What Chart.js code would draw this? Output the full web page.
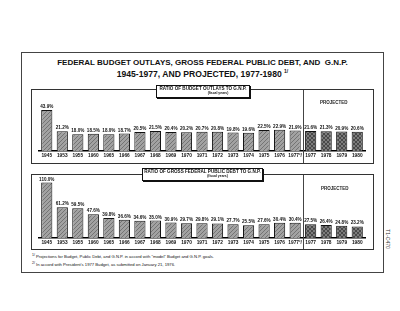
<!DOCTYPE html>
<html>
<head>
<meta charset="utf-8">
<script src="https://cdn.jsdelivr.net/npm/chart.js@4"></script>
<style>
  body { margin: 0; background: #fff; font-family: "Liberation Sans", Arial, sans-serif; }
  .pagina { position: relative; width: 400px; height: 311px; overflow: hidden; }
  .cornice { position: absolute; left: 21px; top: 52px; width: 361px; height: 219px; border: 1px solid #444; }
  .titolo { position: absolute; left: 21px; width: 363px; text-align: center; font-weight: bold; color: #111; }
  .pannello { position: absolute; left: 31px; width: 341px; border: 1px solid #333; }
  .etichetta { position: absolute; background: #fff; border: 1px solid #111; box-shadow: 1px 1px 0 #111; text-align: center; font-weight: bold; font-size: 4.6px; line-height: 5px; color: #111; }
  .etichetta small { display: block; font-size: 3.4px; line-height: 4px; padding-left: 30px; }
  .proiettato { position: absolute; font-weight: bold; font-size: 4.5px; color: #222; }
  .nota { position: absolute; left: 32px; font-size: 4.2px; color: #111; }
  canvas { position: absolute; }
  .laterale { position: absolute; left: 378px; top: 236px; transform: rotate(90deg); font-size: 5px; color: #333; }
</style>
</head>
<body>
<div class="pagina">
  <div class="cornice"></div>
  <div class="titolo" style="top:58px; font-size:8px;">FEDERAL BUDGET OUTLAYS, GROSS FEDERAL PUBLIC DEBT, AND&nbsp; G.N.P.</div>
  <div class="titolo" style="top:68px; font-size:8.6px;">1945-1977, AND PROJECTED, 1977-1980 <sup style="font-size:5px">1/</sup></div>

  <div class="pannello" style="top:89px; height:73px;"></div>
  <canvas id="graficoSpesa" width="341" height="73" style="left:32px; top:90px;"></canvas>
  <div class="etichetta" style="left:156px; top:85px; width:92px; height:11px;">RATIO OF BUDGET OUTLAYS TO G.N.P.<small>(fiscal years)</small></div>
  <div class="proiettato" style="left:320px; top:100px;">PROJECTED</div>

  <div class="pannello" style="top:174px; height:74px;"></div>
  <canvas id="graficoDebito" width="341" height="74" style="left:32px; top:175px;"></canvas>
  <div class="etichetta" style="left:142px; top:168px; width:119px; height:11px;">RATIO OF GROSS FEDERAL PUBLIC DEBT TO G.N.P.<small>(fiscal years)</small></div>
  <div class="proiettato" style="left:321px; top:186px;">PROJECTED</div>

  <div class="nota" style="top:253px;"><sup>1/</sup> Projections for Budget, Public Debt, and G.N.P. in accord with "model" Budget and G.N.P. goals.</div>
  <div class="nota" style="top:261px;"><sup>2/</sup> In accord with President's 1977 Budget, as submitted on January 21, 1976.</div>
  <div class="laterale">T1-C470</div>
</div>

<script>
// Dati
const anni = ['1945', '1953', '1955', '1960', '1965', '1966', '1967', '1968', '1969', '1970', '1971',
    '1972', '1973', '1974', '1975', '1976', '1977²/', '1977', '1978', '1979', '1980'];
const spesaSuPnl = [43.9, 21.2, 18.0, 18.5, 18.0, 18.7, 20.5, 21.5, 20.4, 20.2, 20.7,
    20.8, 19.8, 19.6, 22.5, 22.9, 21.9, 21.6, 21.3, 20.9, 20.6];
const debitoSuPnl = [110.0, 61.2, 59.5, 47.6, 39.8, 36.6, 34.6, 35.0, 30.9, 29.7, 29.8,
    29.1, 27.7, 25.5, 27.6, 30.4, 30.4, 27.5, 26.4, 24.8, 23.2];
const primoProiettato = 17;


function creaTrama(sfondo, linea, incrociata) {
    const c = document.createElement('canvas');
    c.width = 4;
    c.height = 4;
    const g = c.getContext('2d');
    g.fillStyle = sfondo;
    g.fillRect(0, 0, 4, 4);
    g.strokeStyle = linea;
    g.lineWidth = 0.8;
    g.beginPath();
    g.moveTo(0, 4); g.lineTo(4, 0);
    if (incrociata) {
        g.moveTo(0, 0); g.lineTo(4, 4);
    }
    g.stroke();
    return g.createPattern(c, 'repeat');
}

const tramaStorica = creaTrama('#a2a2a2', '#686868', false);
const tramaProiettata = creaTrama('#7c7c7c', '#3c3c3c', true);

// etichette sopra le barre e linea divisoria
const etichetteBarre = {
    id: 'etichetteBarre',
    afterDatasetsDraw(chart) {
        const ctx = chart.ctx;
        const meta = chart.getDatasetMeta(0);
        const valori = chart.data.datasets[0].data;
        ctx.save();
        ctx.fillStyle = '#111';
        ctx.font = 'bold 4.6px "Liberation Sans", Arial, sans-serif';
        ctx.textAlign = 'center';
        ctx.textBaseline = 'bottom';
        meta.data.forEach((barra, i) => {
            ctx.fillText(valori[i].toFixed(1) + '%', barra.x, barra.y - 1);
        });

        const x = chart.scales.x;
        const divisore = (x.getPixelForValue(primoProiettato - 1) + x.getPixelForValue(primoProiettato)) / 2;
        ctx.strokeStyle = '#444';
        ctx.lineWidth = 1;
        ctx.beginPath();
        ctx.moveTo(Math.round(divisore) + 0.5, 0);
        ctx.lineTo(Math.round(divisore) + 0.5, chart.height);
        ctx.stroke();
        ctx.restore();
    }
};

function creaGrafico(id, valori, massimo, paddingBasso) {
    const ctx = document.getElementById(id).getContext('2d');
    return new Chart(ctx, {
        type: 'bar',
        data: {
            labels: anni,
            datasets: [{
                data: valori,
                backgroundColor: valori.map((v, i) => i >= primoProiettato ? tramaProiettata : tramaStorica),
                borderColor: '#111',
                borderWidth: 1,
                categoryPercentage: 0.72,
                barPercentage: 1
            }]
        },
        options: {
            responsive: false,
            animation: false,
            devicePixelRatio: 1,
            layout: { padding: { left: 7, right: 8, top: 0, bottom: paddingBasso } },
            plugins: { legend: { display: false }, tooltip: { enabled: false } },
            scales: {
                x: {
                    grid: { display: false, drawTicks: false },
                    border: { display: true, color: '#000', width: 1.5 },
                    ticks: {
                        autoSkip: false,
                        maxRotation: 0,
                        padding: 2,
                        color: '#111',
                        font: { size: 4.8, weight: 'bold', family: '"Liberation Sans", Arial, sans-serif' }
                    }
                },
                y: { display: false, min: 0, max: massimo }
            }
        },
        plugins: [etichetteBarre]
    });
}

creaGrafico('graficoSpesa', spesaSuPnl, 65, 2);
creaGrafico('graficoDebito', debitoSuPnl, 125, 1);
</script>
</body>
</html>
